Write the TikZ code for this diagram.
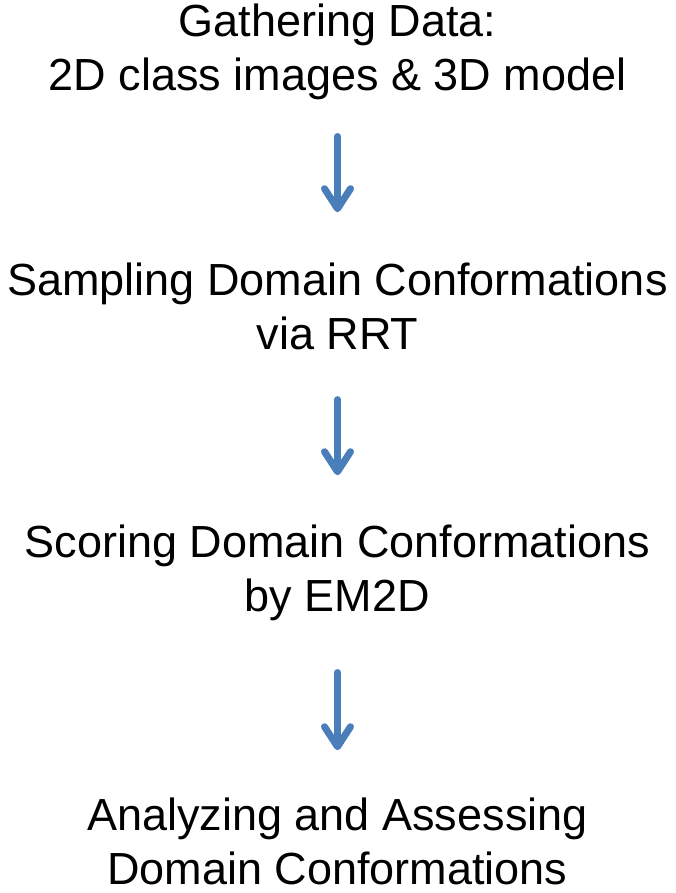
\documentclass[tikz,border=0pt]{standalone}
\usepackage{fontspec}
\setmainfont{Liberation Sans}
\usetikzlibrary{arrows.meta,positioning}
\definecolor{flowblue}{HTML}{4A7EBB}

\begin{document}
\begin{tikzpicture}[x=1pt,y=-1pt,>={Straight Barb[round,length=20pt,width=26pt]}]
        \tikzset{stage/.style={align=center,inner sep=0pt,anchor=base,font=\fontsize{45}{54}\selectfont},
                 flow/.style={->,draw=flowblue,line width=7pt,line cap=round}}
        \useasboundingbox (0,0) rectangle (675,893);
        \node[stage] (gather) at (337.5,91) {Gathering Data:\\2D class images \& 3D model};
        \node[stage] (sample) at (337.5,349) {Sampling Domain Conformations\\via RRT};
        \node[stage] (score) at (337.5,611) {Scoring Domain Conformations\\by EM2D};
        \node[stage] (assess) at (337.5,884) {Analyzing and Assessing\\Domain Conformations};
        \draw[flow,shorten <=36pt,shorten >=50pt] (gather.south) -- (sample.north);
        \draw[flow,shorten <=50pt,shorten >=49pt] (sample.south) -- (score.north);
        \draw[flow,shorten <=52pt,shorten >=47pt] (score.south) -- (assess.north);
      \end{tikzpicture}
\end{document}
